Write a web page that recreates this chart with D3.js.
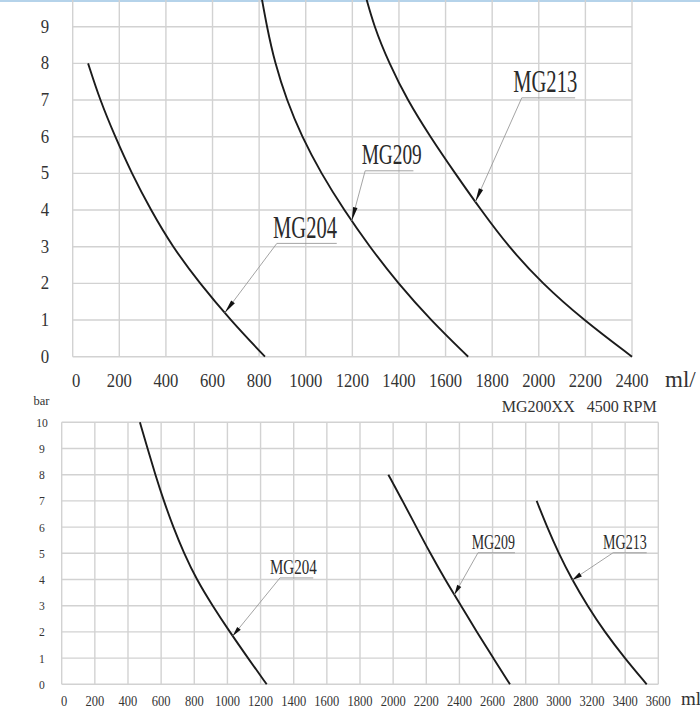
<!DOCTYPE html>
<html><head><meta charset="utf-8">
<script src="https://cdn.jsdelivr.net/npm/d3@7/dist/d3.min.js"></script>
<style>html,body{margin:0;padding:0;background:#fff;overflow:hidden}</style>
</head><body><svg id="c" width="700" height="713"></svg>
<script>
// ---------- data ----------
const topXTicks = [0,200,400,600,800,1000,1200,1400,1600,1800,2000,2200,2400];
const topYTicks = [0,1,2,3,4,5,6,7,8,9];
const botXTicks = [0,200,400,600,800,1000,1200,1400,1600,1800,2000,2200,2400,2600,2800,3000,3200,3400,3600];
const botYTicks = [0,1,2,3,4,5,6,7,8,9,10];

// [flow ml/min, pressure bar]
const topMG204 = [[66,8],[117,7],[182,6],[253,5],[335,4],[428,3],[545,2],[677,1],[825,0]];
const topMG209 = [[805,10],[833,9],[868,8],[918,7],[983,6],[1066,5],[1164,4],[1274,3],[1396,2],[1536,1],[1697,0]];
const topMG213 = [[1250,10],[1293,9],[1358,8],[1436,7],[1534,6],[1641,5],[1752,4],[1870,3],[2014,2],[2192,1],[2400,0]];
const botMG204 = [[472,10],[518,9],[565,8],[616,7],[673,6],[738,5],[814,4],[910,3],[1014,2],[1124,1],[1237,0]];
const botMG209 = [[1971,8],[2057,7],[2140,6],[2224,5],[2313,4],[2410,3],[2505,2],[2604,1],[2705,0]];
const botMG213 = [[2866,7],[2929,6],[2999,5],[3079,4],[3172,3],[3276,2],[3397,1],[3530,0]];

const topUnit = "ml/";
const botUnit = "ml";
const subtitle = "MG200XX\u00a0\u00a0\u00a04500 RPM";
const barLabel = "bar";

// ---------- layout ----------
const svg = d3.select("#c");
svg.append("rect").attr("width",700).attr("height",713).attr("fill","#fff");
svg.append("rect").attr("x",0).attr("y",0).attr("width",700).attr("height",2).attr("fill","#b5d3ea");

const FONT = "'Liberation Serif','Times New Roman',serif";
const gridColor = "#d2d2d2";

const xTop = d3.scaleLinear().domain([0,2400]).range([72.7,632]);
const yTop = d3.scaleLinear().domain([0,9]).range([356.7,26.7]);
const xBot = d3.scaleLinear().domain([0,3600]).range([61.7,658.3]);
const yBot = d3.scaleLinear().domain([0,10]).range([684.3,422.3]);

function condensed(sel, text, size, len){
  sel.text(text).attr("font-family",FONT).attr("font-size",size).attr("fill","#333");
  if(len) sel.attr("textLength",len).attr("lengthAdjust","spacingAndGlyphs");
  return sel;
}

function grid(g, x, y, xt, yt, yTopVal){
  g.selectAll(".v").data(xt).enter().append("line")
    .attr("x1",d=>x(d)).attr("x2",d=>x(d))
    .attr("y1",y(0)).attr("y2",y(yTopVal))
    .attr("stroke",gridColor).attr("stroke-width",1.4);
  g.selectAll(".h").data(yt).enter().append("line")
    .attr("x1",x(xt[0])).attr("x2",x(xt[xt.length-1]))
    .attr("y1",d=>y(d)).attr("y2",d=>y(d))
    .attr("stroke",gridColor).attr("stroke-width",1.4);
}

const gTop = svg.append("g");
grid(gTop, xTop, yTop, topXTicks, topYTicks, 10);
const gBot = svg.append("g");
grid(gBot, xBot, yBot, botXTicks, botYTicks, 10);

// tick labels top
gTop.selectAll(".yl").data(topYTicks).enter().append("text")
  .each(function(d){ condensed(d3.select(this), String(d), 19, 8.4*String(d).length); })
  .attr("x",45).attr("y",d=>yTop(d)+6).attr("text-anchor","middle");
gTop.selectAll(".xl").data(topXTicks).enter().append("text")
  .each(function(d){ condensed(d3.select(this), String(d), 19, 8.3*String(d).length); })
  .attr("x",d=>d===0 ? xTop(d)+3.5 : xTop(d)).attr("y",387).attr("text-anchor","middle");
condensed(svg.append("text"), topUnit, 23).attr("x",665).attr("y",386.5);
condensed(svg.append("text"), subtitle, 17, 155).attr("x",501.7).attr("y",411.5);

// tick labels bottom
gBot.selectAll(".yl").data(botYTicks).enter().append("text")
  .each(function(d){ condensed(d3.select(this), String(d), 13, 5.8*String(d).length); })
  .attr("x",42).attr("y",d=>yBot(d)+4.5).attr("text-anchor","middle");
condensed(svg.append("text"), barLabel, 12, 16).attr("x",33.5).attr("y",404.5);
gBot.selectAll(".xl").data(botXTicks).enter().append("text")
  .each(function(d){ condensed(d3.select(this), String(d), 15, 6.25*String(d).length); })
  .attr("x",d=>d===0 ? xBot(d)+2.5 : xBot(d)).attr("y",705.5).attr("text-anchor","middle");
condensed(svg.append("text"), botUnit, 19).attr("x",681).attr("y",705);

// curves
function drawCurve(g, x, y, data){
  const line = d3.line().x(d=>x(d[0])).y(d=>y(d[1])).curve(d3.curveBasis);
  g.append("path").datum(data).attr("d",line)
    .attr("fill","none").attr("stroke","#1b1b1b").attr("stroke-width",1.9);
}
[topMG204, topMG209, topMG213].forEach(s=>drawCurve(gTop,xTop,yTop,s));
[botMG204, botMG209, botMG213].forEach(s=>drawCurve(gBot,xBot,yBot,s));

// annotations: positions in data units
function flowAt(data, bar){
  for(let i=0;i<data.length-1;i++){
    const a=data[i], b=data[i+1];
    if(bar<=a[1] && bar>=b[1]){ const t=(a[1]-bar)/(a[1]-b[1]); return a[0]+t*(b[0]-a[0]); }
  }
  return data[data.length-1][0];
}
const topNotes = [
  {name:"MG204", data:topMG204, tipBar:1.19, ulX0:876, ulX1:1133, ulBar:3.09, txX0:860, txX1:1134, dy:5.5, size:31, ah:14},
  {name:"MG209", data:topMG209, tipBar:3.70, ulX0:1255, ulX1:1462, ulBar:5.07, txX0:1240, txX1:1498, dy:7, size:30, ah:14},
  {name:"MG213", data:topMG213, tipBar:4.22, ulX0:1927, ulX1:2156, ulBar:7.06, txX0:1890, txX1:2165, dy:6, size:31, ah:14}
];
const botNotes = [
  {name:"MG204", data:botMG204, tipBar:1.84, ulX0:1317, ulX1:1518, ulBar:4.06, txX0:1257, txX1:1539, dy:3.5, size:21, ah:10},
  {name:"MG209", data:botMG209, tipBar:3.42, ulX0:2512, ulX1:2735, ulBar:5.02, txX0:2474, txX1:2735, dy:3.5, size:21, ah:10},
  {name:"MG213", data:botMG213, tipBar:3.98, ulX0:3327, ulX1:3530, ulBar:5.02, txX0:3267, txX1:3530, dy:3.5, size:21, ah:10}
];
function annotate(g, x, y, notes){
  notes.forEach(n=>{
    const tx = x(flowAt(n.data, n.tipBar)), ty = y(n.tipBar);
    const sx = x(n.ulX0), sy = y(n.ulBar);
    g.append("line").attr("x1",sx).attr("y1",sy).attr("x2",x(n.ulX1)).attr("y2",sy)
      .attr("stroke","#9a9a9a").attr("stroke-width",0.9);
    g.append("line").attr("x1",sx).attr("y1",sy).attr("x2",tx).attr("y2",ty)
      .attr("stroke","#9a9a9a").attr("stroke-width",0.9);
    const dx = sx-tx, dy = sy-ty, L = Math.hypot(dx,dy), ux=dx/L, uy=dy/L;
    const bx = tx+ux*n.ah, by = ty+uy*n.ah, w=2.3;
    g.append("path").attr("d",`M${tx},${ty}L${bx-uy*w},${by+ux*w}L${bx+uy*w},${by-ux*w}Z`).attr("fill","#111");
    condensed(g.append("text"), n.name, n.size, x(n.txX1)-x(n.txX0))
      .attr("x",x(n.txX0)).attr("y",sy-n.dy).attr("fill","#2a2a2a");
  });
}
annotate(gTop, xTop, yTop, topNotes);
annotate(gBot, xBot, yBot, botNotes);
</script></body></html>
